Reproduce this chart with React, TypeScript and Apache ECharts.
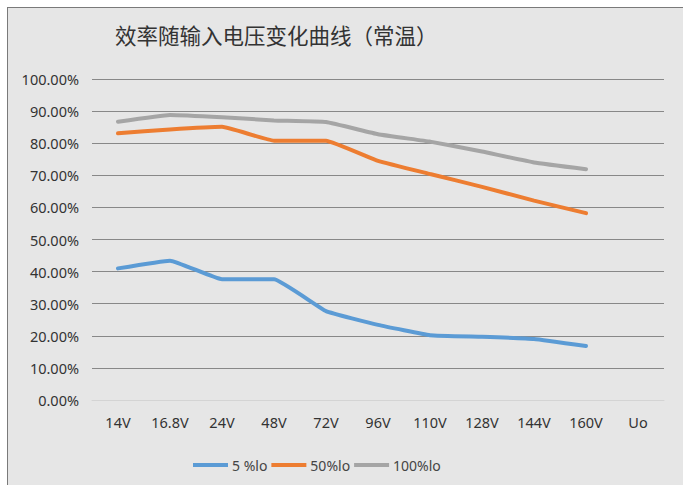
import React, { useEffect, useRef } from "react";
import * as echarts from "echarts";

const titleText = "效率随输入电压变化曲线（常温）";
const categories = ["14V", "16.8V", "24V", "48V", "72V", "96V", "110V", "128V", "144V", "160V", "Uo"];
const seriesNames = ["5 %lo", "50%lo", "100%lo"];
const load5 = [0.41, 0.434, 0.376, 0.376, 0.277, 0.234, 0.202, 0.197, 0.19, 0.168, null];
const load50 = [0.831, 0.843, 0.851, 0.808, 0.808, 0.745, 0.704, 0.664, 0.621, 0.582, null];
const load100 = [0.867, 0.888, 0.881, 0.871, 0.866, 0.828, 0.805, 0.774, 0.74, 0.719, null];
const colors = ["#5B9BD5", "#ED7D31", "#A5A5A5"];

export default function App() {
  const ref = useRef<HTMLDivElement>(null);
  useEffect(() => {
    if (!ref.current) return;
    const chart = echarts.init(ref.current, undefined, { renderer: "svg" });
    const dataSets = [load5, load50, load100];
    chart.setOption({
      animation: false,
      backgroundColor: "#ffffff",
      graphic: [
        { type: "rect", shape: { x: 8, y: 8, width: 680, height: 480 }, style: { fill: "#e6e6e6" }, z: -10 },
        { type: "line", shape: { x1: 7.5, y1: 7, x2: 7.5, y2: 485 }, style: { stroke: "#7a7a7a", lineWidth: 1 }, z: -9 },
        { type: "line", shape: { x1: 7, y1: 7.5, x2: 683, y2: 7.5 }, style: { stroke: "#7a7a7a", lineWidth: 1 }, z: -9 },
      ],
      title: {
        text: titleText,
        left: 110,
        top: 19,
        textStyle: { fontSize: 21.5, fontWeight: "normal", color: "#333", fontFamily: "Noto Sans CJK SC" },
      },
      legend: {
        data: seriesNames,
        left: 188,
        top: 453,
        itemGap: 4,
        itemWidth: 35,
        itemHeight: 4,
        icon: "rect",
        textStyle: { fontSize: 14, color: "#444", fontFamily: "Noto Sans", padding: [0, 0, 0, -1] },
      },
      grid: { left: 92, right: 19, top: 79, bottom: 85 },
      xAxis: {
        type: "category",
        data: categories,
        boundaryGap: true,
        axisLine: { lineStyle: { color: "#d4d4d4" } },
        axisTick: { show: false },
        axisLabel: { fontSize: 14.5, color: "#333", margin: 14, fontFamily: "Noto Sans", interval: 0 },
      },
      yAxis: {
        type: "value",
        min: 0,
        max: 1,
        interval: 0.1,
        axisLine: { show: false },
        axisTick: { show: false },
        axisLabel: {
          fontSize: 14.5,
          color: "#333",
          margin: 13,
          fontFamily: "Noto Sans",
          formatter: (v: number) => (v * 100).toFixed(2) + "%",
        },
        splitLine: { show: true, showMinLine: false, lineStyle: { color: "#888888", width: 1 } },
      },
      series: seriesNames.map((name, i) => ({
        name,
        type: "line",
        data: dataSets[i],
        smooth: 0.1,
        symbol: "none",
        lineStyle: { color: colors[i], width: 4, cap: "round" },
        itemStyle: { color: colors[i] },
      })),
    });
    return () => chart.dispose();
  }, []);
  return (
    <div
      ref={ref}
      style={{ position: "fixed", left: 0, top: 0, width: 683, height: 485 }}
    />
  );
}
